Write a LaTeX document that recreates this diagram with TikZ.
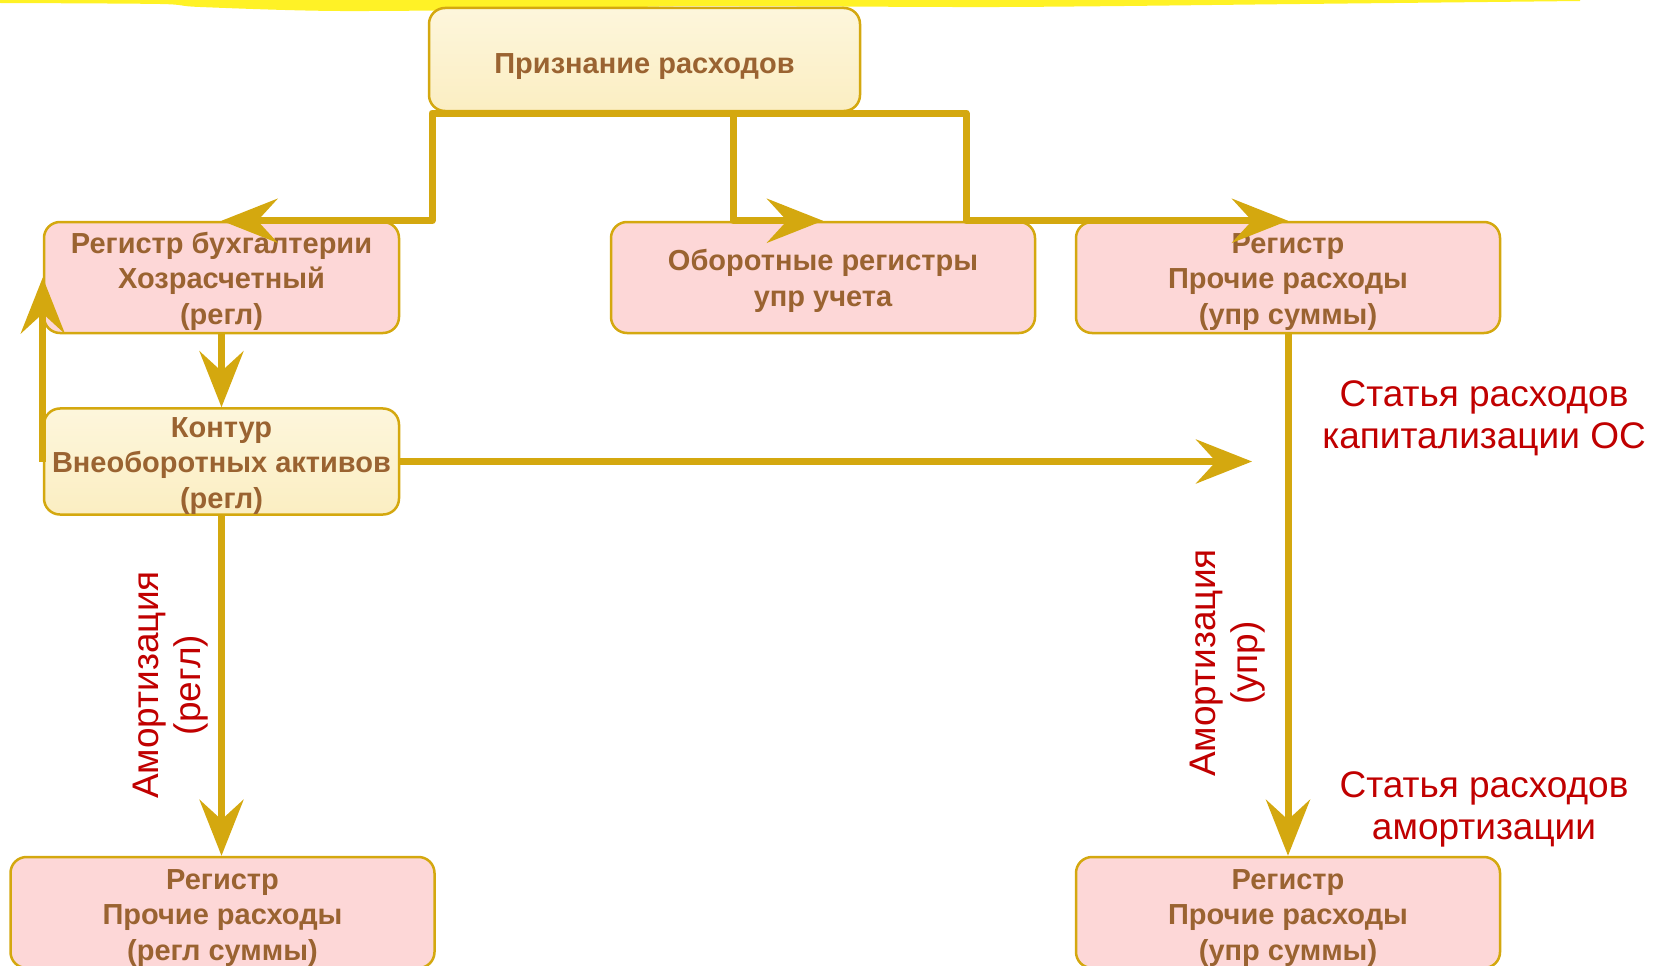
\documentclass[tikz,border=0pt]{standalone}
\usepackage{fontspec}
\setmainfont{Liberation Sans}
\usetikzlibrary{arrows.meta,calc}
\definecolor{gold}{HTML}{D4A80F}
\definecolor{pinkf}{HTML}{FDD7D7}
\definecolor{creamT}{HTML}{FDF6DC}
\definecolor{creamB}{HTML}{FBEEC2}
\definecolor{brownT}{HTML}{9A6331}
\definecolor{redT}{HTML}{C00000}
\definecolor{hl}{HTML}{FFF000}
\newcommand{\tstrut}[1]{\rule{0pt}{#1pt}}
\begin{document}
\begin{tikzpicture}[x=1pt,y=-1pt,
  box/.style={draw=gold, line width=2.5pt, rounded corners=16pt, inner sep=0pt, align=center, text=brownT, font=\fontsize{29}{35.5}\selectfont\bfseries},
  pinkbox/.style={box, fill=pinkf},
  creambox/.style={box, top color=creamT, bottom color=creamB},
  conn/.style={draw=gold, line width=7pt, line join=round},
  arr/.style={conn, -{Stealth[length=56pt,width=44pt,inset=20pt]}},
  lbl/.style={text=redT, align=center, font=\fontsize{37}{42}\selectfont, inner sep=0pt}]
\useasboundingbox (0,0) rectangle (1654,966);
\clip (0,0) rectangle (1654,966);
% highlighter stripe
\fill[hl, opacity=0.85] (0,0) -- plot[smooth] coordinates {(0,3) (160,4) (200,7) (340,11) (560,9) (700,6) (1000,7) (1300,4) (1580,1)} -- (1580,0) -- cycle;
% boxes
\node[creambox, minimum width=431pt, minimum height=103pt] (top) at (644.5,59.5) {\tstrut{34}Признание расходов};
\node[pinkbox, minimum width=355pt, minimum height=111pt] (regbuh) at (221.5,277.5) {\tstrut{29}Регистр бухгалтерии\\Хозрасчетный\\(регл)};
\node[pinkbox, minimum width=424pt, minimum height=111pt] (obor) at (823,277.5) {\tstrut{28}Оборотные регистры\\упр учета};
\node[pinkbox, minimum width=424pt, minimum height=111pt] (proch1) at (1288,277.5) {\tstrut{29}Регистр\\Прочие расходы\\(упр суммы)};
\node[creambox, minimum width=355pt, minimum height=105pt] (kontur) at (221.5,461.5) {\tstrut{29}Контур\\Внеоборотных активов\\(регл)};
\node[pinkbox, minimum width=424pt, minimum height=111pt] (prochL) at (222.5,912.5) {\tstrut{30}Регистр\\Прочие расходы\\(регл суммы)};
\node[pinkbox, minimum width=424pt, minimum height=111pt] (prochR) at (1288,912.5) {\tstrut{30}Регистр\\Прочие расходы\\(упр суммы)};
% connectors
\coordinate (b1) at (432,113);
\coordinate (b2) at (733,113);
\coordinate (b3) at (966,113);
\draw[arr] (b3) -- (b1) |- (regbuh.north);
\draw[arr] (b1) -- (b3) |- (proch1.north);
\draw[arr] (b2) |- (obor.north);
\draw[arr] (regbuh.south) -- (kontur.north);
\draw[arr] (kontur.west) -- (regbuh.west);
\coordinate (kend) at (1252,461.5);
\draw[arr] (kontur.east) -- (kend);
\draw[arr] (kontur.south) -- (kontur.south |- prochL.north);
\draw[arr] (proch1.south) -- (prochR.north);
% labels
\node[lbl] (capl) at (1484,418) {Статья расходов\\капитализации ОС};
\node[lbl] (amorl) at (1484,809) {Статья расходов\\амортизации};
\node[lbl, rotate=90] (al) at (171,685) {Амортизация\\(регл)};
\node[lbl, rotate=90] (ar) at (1228,663) {Амортизация\\(упр)};
\end{tikzpicture}
\end{document}
